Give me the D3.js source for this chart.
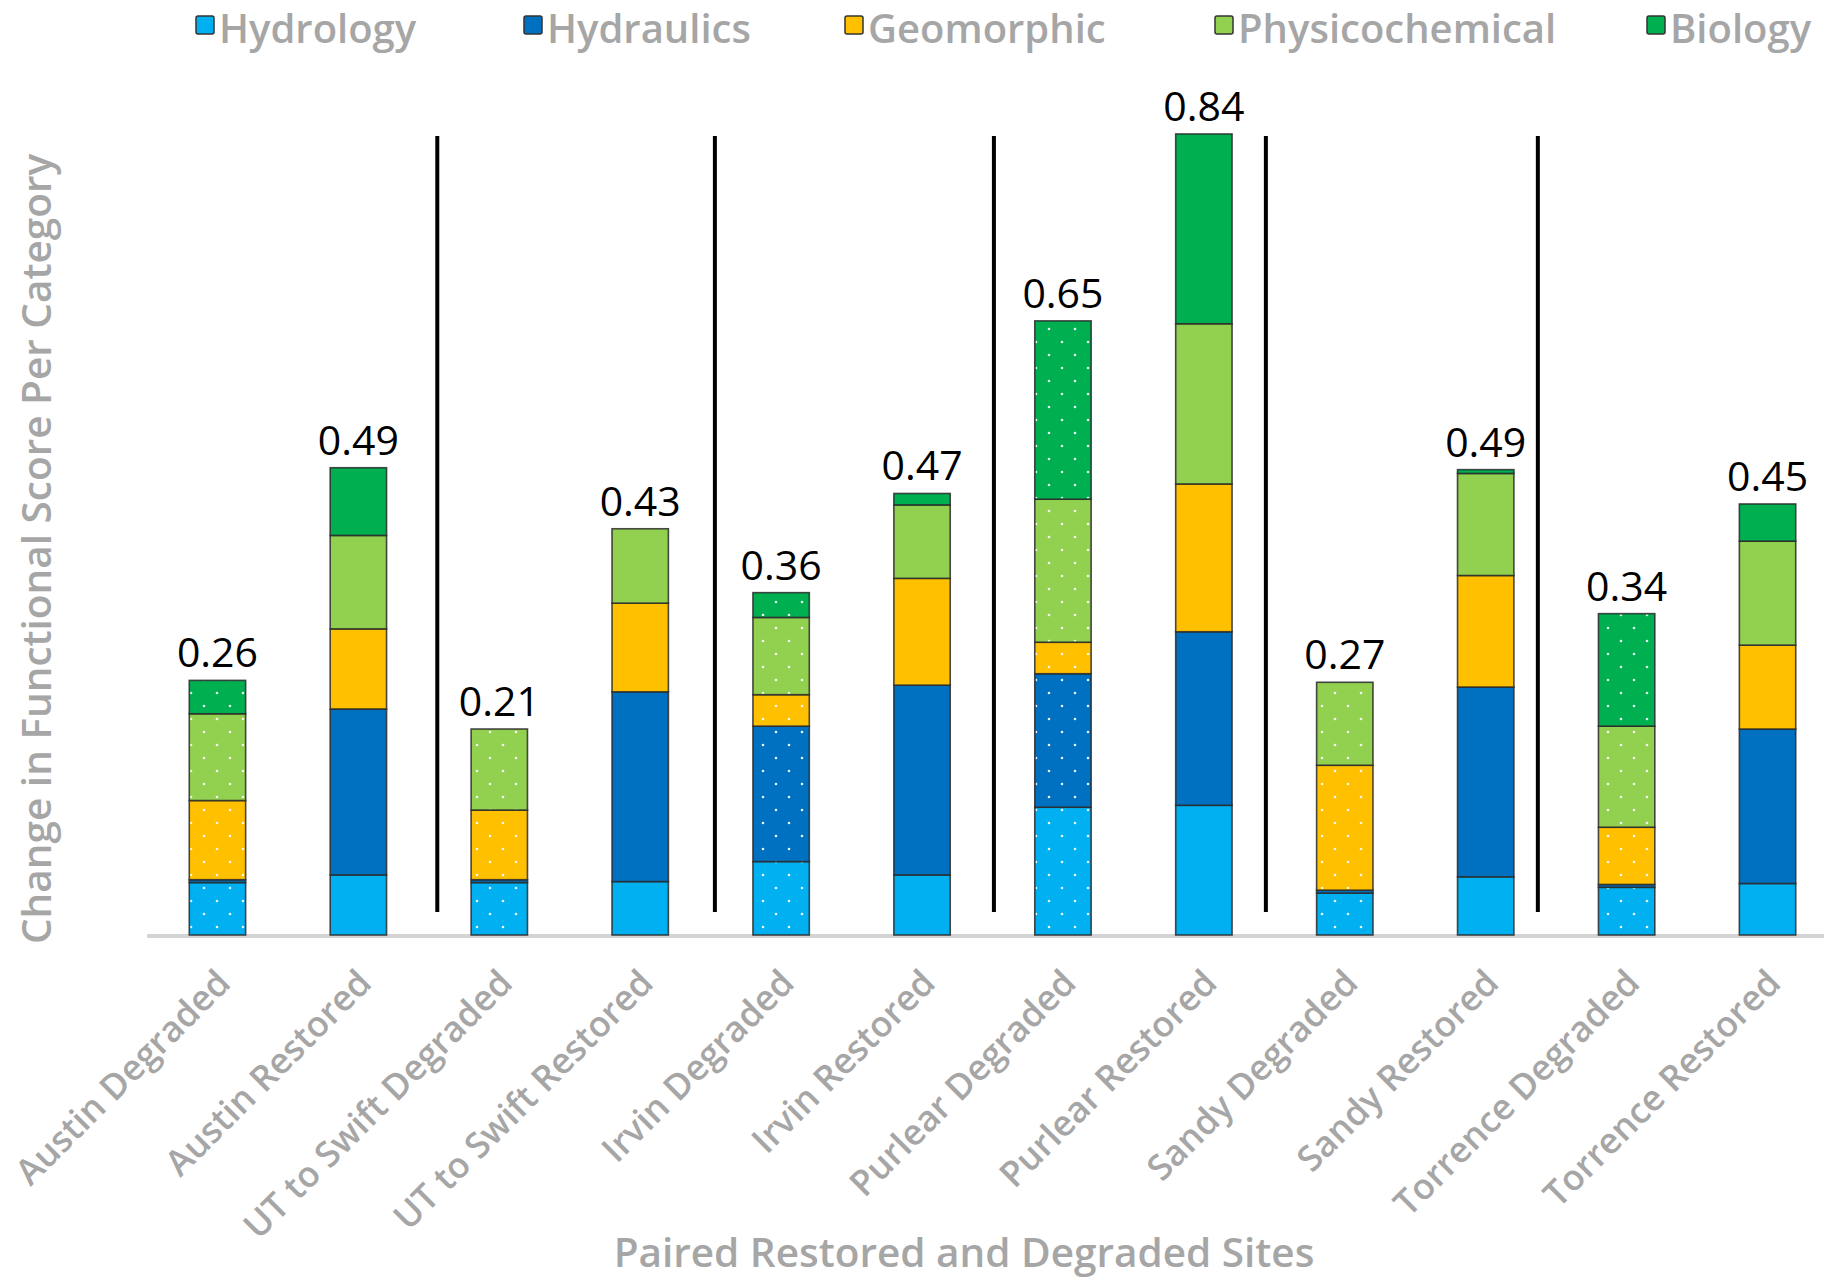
<!DOCTYPE html>
<html>
<head>
<meta charset="utf-8">
<script src="https://cdn.jsdelivr.net/npm/d3@7"></script>
<style>
  body { margin: 0; background: #fff; }
  svg { display: block; font-family: 'Open Sans', sans-serif; }
</style>
</head>
<body>
<div id="chart-area"></div>
<script>
const canvas_width = 1824;
const canvas_height = 1281;

// data
const sites = ['Austin Degraded', 'Austin Restored', 'UT to Swift Degraded', 'UT to Swift Restored',
    'Irvin Degraded', 'Irvin Restored', 'Purlear Degraded', 'Purlear Restored',
    'Sandy Degraded', 'Sandy Restored', 'Torrence Degraded', 'Torrence Restored'];
const categories = ['Hydrology', 'Hydraulics', 'Geomorphic', 'Physicochemical', 'Biology'];
const hydrology = [0.055, 0.063, 0.055, 0.056, 0.077, 0.063, 0.134, 0.136, 0.044, 0.061, 0.050, 0.054];
const hydraulics = [0.003, 0.174, 0.003, 0.199, 0.142, 0.199, 0.140, 0.182, 0.003, 0.199, 0.003, 0.162];
const geomorphic = [0.083, 0.084, 0.073, 0.093, 0.033, 0.112, 0.033, 0.155, 0.131, 0.117, 0.060, 0.088];
const physicochemical = [0.091, 0.098, 0.085, 0.078, 0.081, 0.077, 0.150, 0.168, 0.087, 0.107, 0.106, 0.109];
const biology = [0.035, 0.071, 0, 0, 0.026, 0.012, 0.187, 0.199, 0, 0.004, 0.118, 0.039];
const totalLabels = ['0.26', '0.49', '0.21', '0.43', '0.36', '0.47', '0.65', '0.84', '0.27', '0.49', '0.34', '0.45'];
// dividers between site pairs, in category-index units, and their extent in score units
const dividerAt = [1.56, 3.53, 5.51, 7.44, 9.37];
const dividerExtent = [0.024, 0.838];

const colors = ['#00b0f0', '#0070c0', '#ffc000', '#92d050', '#00b050'];
const grey = '#a6a6a6';
const legendX = [196, 524, 845, 1215, 1647];

const margin = { left: 147, right: -14, top: 77, bottom: 346 };
const width = canvas_width - margin.left - margin.right;
const height = canvas_height - margin.top - margin.bottom;

let canvas = d3.select('#chart-area').append('svg')
    .attr('width', canvas_width)
    .attr('height', canvas_height);

let defs = canvas.append('defs');
let pat = defs.append('pattern')
    .attr('id', 'dots')
    .attr('patternUnits', 'userSpaceOnUse')
    .attr('width', 26).attr('height', 26);
pat.append('circle').attr('cx', 5).attr('cy', 5).attr('r', 1.3).attr('fill', '#fff').attr('opacity', 0.9);
pat.append('circle').attr('cx', 18).attr('cy', 18).attr('r', 1.3).attr('fill', '#fff').attr('opacity', 0.9);

let group = canvas.append('g').attr('transform', `translate(${margin.left}, ${margin.top})`);

let rows = sites.map((s, i) => ({
    site: s,
    Hydrology: hydrology[i],
    Hydraulics: hydraulics[i],
    Geomorphic: geomorphic[i],
    Physicochemical: physicochemical[i],
    Biology: biology[i]
}));

let x = d3.scaleBand()
    .domain(sites)
    .range([0, width])
    .paddingInner(0.6)
    .paddingOuter(0.3);

let y = d3.scaleLinear()
    .domain([0, 0.9])
    .range([height, height - 0.9 * 953.6]);

let color = d3.scaleOrdinal().domain(categories).range(colors);

let stacked = d3.stack().keys(categories)(rows);

// axis base line
group.append('line')
    .attr('x1', 0).attr('x2', canvas_width)
    .attr('y1', y(0) + 1).attr('y2', y(0) + 1)
    .attr('stroke', '#d4d4d4')
    .attr('stroke-width', 4);

let layers = group.selectAll('g.layer').data(stacked).enter().append('g')
    .attr('class', 'layer');

layers.selectAll('rect.seg')
    .data((d) => d.map((v, i) => ({ key: d.key, v: v, i: i })))
    .enter().append('rect')
    .attr('class', 'seg')
    .attr('x', (d) => x(sites[d.i]))
    .attr('y', (d) => y(d.v[1]))
    .attr('width', x.bandwidth())
    .attr('height', (d) => y(d.v[0]) - y(d.v[1]))
    .attr('fill', (d) => color(d.key))
    .attr('stroke', '#2a2a2a')
    .attr('stroke-width', 1.6)
    .attr('stroke-opacity', (d) => d.v[1] - d.v[0] > 0 ? 0.85 : 0);

// white dot texture on the degraded bars
layers.selectAll('rect.dot')
    .data((d) => d.map((v, i) => ({ key: d.key, v: v, i: i })).filter((d) => d.i % 2 === 0 && d.v[1] - d.v[0] > 0.005))
    .enter().append('rect')
    .attr('class', 'dot')
    .attr('x', (d) => x(sites[d.i]) + 1)
    .attr('y', (d) => y(d.v[1]) + 1)
    .attr('width', x.bandwidth() - 2)
    .attr('height', (d) => Math.max(0, y(d.v[0]) - y(d.v[1]) - 2))
    .attr('fill', 'url(#dots)');

// total labels
group.selectAll('text.total')
    .data(rows)
    .enter().append('text')
    .attr('class', 'total')
    .attr('x', (d) => x(d.site) + x.bandwidth() / 2)
    .attr('y', (d, i) => y(d3.sum(categories, (k) => d[k])) - 13)
    .attr('text-anchor', 'middle')
    .attr('font-size', '41px')
    .attr('fill', '#000')
    .text((d, i) => totalLabels[i]);

// pair dividers
let step = x.step();
let centre0 = x(sites[0]) + x.bandwidth() / 2;
group.selectAll('line.divider')
    .data(dividerAt)
    .enter().append('line')
    .attr('class', 'divider')
    .attr('x1', (d) => centre0 + d * step)
    .attr('x2', (d) => centre0 + d * step)
    .attr('y1', y(dividerExtent[1]))
    .attr('y2', y(dividerExtent[0]))
    .attr('stroke', '#000')
    .attr('stroke-width', 4);

// x tick labels
group.selectAll('text.tick')
    .data(sites)
    .enter().append('text')
    .attr('class', 'tick')
    .attr('transform', (d) => `translate(${x(d) + x.bandwidth() / 2 + 15}, ${y(0) + 50}) rotate(-45)`)
    .attr('text-anchor', 'end')
    .attr('font-size', '35.5px')
    .attr('font-weight', 600)
    .attr('fill', grey)
    .text((d) => d);

// axis titles
canvas.append('text')
    .attr('x', 964)
    .attr('y', 1267)
    .attr('text-anchor', 'middle')
    .attr('font-size', '40.5px')
    .attr('font-weight', 600)
    .attr('fill', grey)
    .text('Paired Restored and Degraded Sites');

canvas.append('text')
    .attr('transform', 'translate(51, 549) rotate(-90)')
    .attr('text-anchor', 'middle')
    .attr('font-size', '40.5px')
    .attr('font-weight', 600)
    .attr('fill', grey)
    .text('Change in Functional Score Per Category');

// legend
let legend = canvas.append('g').attr('class', 'legend');
categories.forEach((c, i) => {
    let lx = legendX[i];
    legend.append('rect')
        .attr('x', lx).attr('y', 16)
        .attr('width', 18).attr('height', 18)
        .attr('rx', 2)
        .attr('fill', color(c))
        .attr('stroke', '#333')
        .attr('stroke-width', 1.5);
    legend.append('text')
        .attr('x', lx + 23).attr('y', 43)
        .attr('font-size', '40px')
        .attr('font-weight', 600)
        .attr('fill', grey)
        .text(c);
});
</script>
</body>
</html>
